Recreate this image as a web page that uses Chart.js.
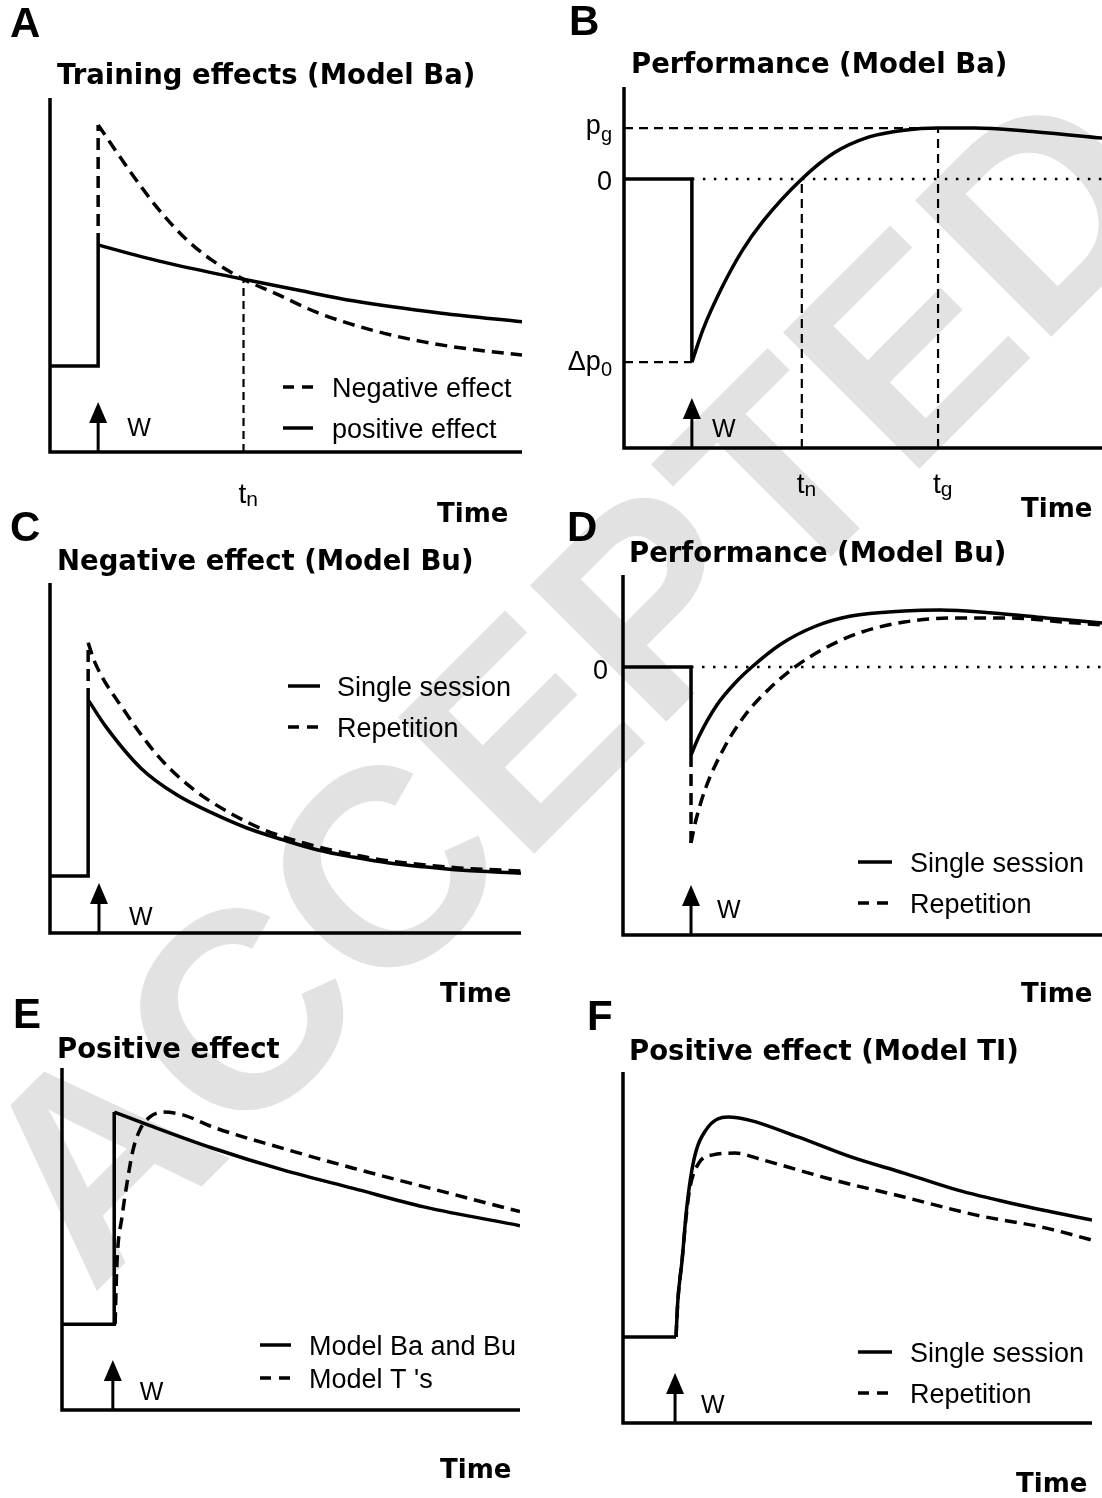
<!DOCTYPE html>
<html lang="en">
<head>
  <meta charset="UTF-8" />
  <title>Training effects and performance models</title>
  <script src="https://cdn.jsdelivr.net/npm/chart.js"></script>
  <style>
    body { margin: 0; background: #fff; }
    #page { position: relative; width: 1102px; height: 1498px; overflow: hidden; }
    #page canvas { position: absolute; left: 0; top: 0; }
  </style>
</head>
<body>
<div id="page">
  <canvas id="mark" width="1102" height="1498"></canvas>
  <canvas id="panelA" width="1102" height="1498"></canvas>
  <canvas id="panelB" width="1102" height="1498"></canvas>
  <canvas id="panelC" width="1102" height="1498"></canvas>
  <canvas id="panelD" width="1102" height="1498"></canvas>
  <canvas id="panelE" width="1102" height="1498"></canvas>
  <canvas id="panelF" width="1102" height="1498"></canvas>
</div>

<script>
  // ---- text ----
  const panelLetters = ['A', 'B', 'C', 'D', 'E', 'F'];
  const panelTitles = [
    'Training effects (Model Ba)', 'Performance (Model Ba)',
    'Negative effect (Model Bu)', 'Performance (Model Bu)',
    'Positive effect', 'Positive effect (Model TI)'
  ];
  const axisName = 'Time';
  const loadName = 'W';
  const watermark = 'ACCEPTED';
  const legendA = ['Negative effect', 'positive effect'];
  const legendC = ['Single session', 'Repetition'];
  const legendD = ['Single session', 'Repetition'];
  const legendE = ['Model Ba and Bu', "Model T 's"];
  const legendF = ['Single session', 'Repetition'];

  // time of the training load W in each panel (A..F)
  const loadTime = [10.2, 14.2, 10.4, 14.2, 11.1, 11.1];

  // ---- A: training effects (Model Ba) ----
  const aStepT = [0, 10.2, 10.2];
  const aStepV = [24.3, 24.3, 58.5];
  const aJumpT = [10.2, 10.2];
  const aJumpV = [58.5, 92.4];
  const aPosT = [10.2, 19.3, 26.8, 41.0, 53.0, 64.2, 82.9, 100];
  const aPosV = [58.5, 55.2, 52.8, 48.8, 45.6, 42.7, 39.2, 36.8];
  const aNegT = [10.2, 12.7, 17.8, 23.1, 29.0, 34.3, 41.0, 47.7, 56.8, 68.0, 79.2, 90.5, 100];
  const aNegV = [92.4, 87.5, 77.7, 68.4, 59.9, 54.2, 48.8, 44.8, 39.3, 34.5, 31.1, 28.8, 27.4];
  const aTn = 41.0;
  const aTnV = 48.8;

  // ---- B: performance (Model Ba) ----
  const bStepT = [0, 14.2, 14.2];
  const bStepV = [0, 0, -35.2];
  const bPerfT = [14.2, 16.5, 20.3, 24.7, 29.1, 37.2, 43.9, 51.3, 58.6, 65.7, 73.4, 84.5, 100];
  const bPerfV = [-35.2, -29.0, -21.2, -13.8, -8.1, 0, 5.0, 8.1, 9.4, 9.8, 9.8, 9.2, 7.9];
  const bTn = 37.2, bTg = 65.7, bPg = 9.8, bDp0 = -35.2;
  const bTickVal = [bPg, 0, bDp0];
  const bTickMain = ['p', '0', 'Δp'];
  const bTickSub = ['g', '', '0'];
  const bTimeVal = [bTn, bTg];
  const bTimeSub = ['n', 'g'];

  // ---- C: negative effect (Model Bu) ----
  const cStepT = [0, 8.1, 8.1];
  const cStepV = [16.3, 16.3, 66.6];
  const cJumpT = [8.1, 8.1];
  const cJumpV = [66.6, 82.9];
  const cSingleT = [8.1, 11.9, 19.3, 27.0, 34.4, 41.8, 49.5, 56.9, 64.3, 72.0, 79.4, 86.8, 100];
  const cSingleV = [66.6, 58.9, 47.1, 39.4, 34.3, 30.0, 26.6, 23.7, 21.7, 20.0, 18.9, 18.0, 17.1];
  const cRepT = [8.1, 9.6, 15.7, 23.1, 30.6, 38.2, 45.6, 53.1, 60.7, 68.2, 75.6, 86.8, 100];
  const cRepV = [82.9, 77.1, 63.7, 50.3, 40.9, 34.3, 29.4, 26.0, 23.4, 21.4, 20.0, 18.6, 17.7];

  // ---- D: performance (Model Bu) ----
  const dStepT = [0, 14.2, 14.2];
  const dStepV = [0, 0, -17.6];
  const dJumpT = [14.2, 14.2];
  const dJumpV = [-17.6, -35.2];
  const dSingleT = [14.2, 15.9, 19.6, 23.4, 26.9, 33.0, 40.3, 47.6, 58.7, 66.2, 77.2, 88.3, 100];
  const dSingleV = [-17.6, -13.8, -7.6, -3.2, 0, 4.6, 8.2, 10.2, 11.2, 11.4, 10.8, 9.8, 8.8];
  const dRepT = [14.2, 15.2, 17.3, 21.1, 25.5, 30.7, 35.9, 42.6, 49.9, 58.7, 69.7, 80.8, 91.9, 100];
  const dRepV = [-35.2, -30.7, -24.1, -16.2, -9.6, -4.2, 0, 4.0, 7.0, 9.0, 9.8, 9.8, 9.0, 8.4];

  // ---- E: positive effect ----
  const eStepT = [0, 11.4, 11.4];
  const eStepV = [25.1, 25.1, 87.1];
  const eBaT = [11.4, 18.9, 32.8, 48.2, 63.6, 79.0, 100];
  const eBaV = [87.1, 83.3, 76.6, 70.2, 64.8, 59.4, 53.9];
  const eTT = [11.6, 12.0, 13.1, 14.2, 15.5, 17.0, 19.2, 22.1, 26.4, 32.8, 48.2, 63.6, 79.0, 100];
  const eTV = [25.1, 43.0, 56.4, 66.4, 76.0, 81.9, 85.7, 87.1, 86.3, 82.8, 76.5, 70.7, 65.3, 58.0];

  // ---- F: positive effect (Model TI) ----
  const fStepT = [0, 11.3];
  const fStepV = [24.5, 24.5];
  const fSingleT = [11.3, 11.7, 12.6, 13.6, 15.1, 17.7, 22.4, 26.9, 37.3, 48.6, 59.9, 71.2, 82.5, 100];
  const fSingleV = [24.5, 35.0, 46.4, 61.5, 74.9, 83.5, 87.2, 86.3, 81.5, 75.8, 71.2, 66.4, 62.7, 57.8];
  const fRepT = [11.3, 11.7, 12.6, 13.4, 14.3, 16.2, 19.2, 23.9, 29.9, 45.0, 59.9, 75.1, 90.0, 100];
  const fRepV = [24.5, 35.0, 46.4, 58.0, 67.2, 74.1, 76.4, 76.9, 74.9, 69.2, 64.4, 59.3, 55.6, 52.1];

  // ---- helpers ----
  const SANS = '"Liberation Sans", Arial, sans-serif';
  const BOLD = '"DejaVu Sans", sans-serif';
  const DASH = [12, 7];
  const GUIDE = [9, 6];
  const DOTS = [2.5, 8.5];

  function pts(xs, ys) {
    return xs.map((x, i) => ({ x: x, y: ys[i] }));
  }
  function curve(xs, ys, dashed) {
    return {
      data: pts(xs, ys), borderColor: '#000', borderWidth: 3.5,
      borderDash: dashed ? DASH : [], pointRadius: 0, fill: false,
      cubicInterpolationMode: 'monotone'
    };
  }
  function step(xs, ys, dashed) {
    return {
      data: pts(xs, ys), borderColor: '#000', borderWidth: 3.5,
      borderDash: dashed ? DASH : [], pointRadius: 0, fill: false, tension: 0
    };
  }
  function guide(xs, ys, dash, width) {
    return {
      data: pts(xs, ys), borderColor: '#000', borderWidth: width || 2.2,
      borderDash: dash, pointRadius: 0, fill: false, tension: 0
    };
  }
  function txt(ctx, s, x, y, font, align) {
    ctx.font = font;
    ctx.textAlign = align || 'left';
    ctx.textBaseline = 'alphabetic';
    ctx.fillText(s, x, y);
  }

  // per-panel text placement
  const decorById = {
    panelA: { i: 0, letter: [10, 37], title: [57, 84], time: [437, 522], wdx: 29, wy: 436,
      legend: { labels: legendA, dashed: [true, false], ys: [387, 428], x1: 283, x2: 313, tx: 332 },
      xTicks: { vals: [aTn], subs: ['n'], dy: 51 } },
    panelB: { i: 1, letter: [569, 35], title: [631, 73], time: [1021, 517], wdx: 20, wy: 437,
      yTicks: { vals: bTickVal, mains: bTickMain, subs: bTickSub, right: 612, dy: [6, 11, 8], sdy: [13, 0, 14] },
      xTicks: { vals: bTimeVal, subs: bTimeSub, dy: 45 } },
    panelC: { i: 2, letter: [10, 541], title: [57, 570], time: [440, 1002], wdx: 30, wy: 925,
      legend: { labels: legendC, dashed: [false, true], ys: [686, 727], x1: 288, x2: 320, tx: 337 } },
    panelD: { i: 3, letter: [567, 541], title: [629, 562], time: [1021, 1002], wdx: 26, wy: 918,
      legend: { labels: legendD, dashed: [false, true], ys: [862, 903], x1: 858, x2: 892, tx: 910 },
      yTicks: { vals: [0], mains: ['0'], subs: [''], right: 608, dy: [12], sdy: [0] } },
    panelE: { i: 4, letter: [13, 1028], title: [57, 1058], time: [440, 1478], wdx: 27, wy: 1400,
      legend: { labels: legendE, dashed: [false, true], ys: [1345, 1378], x1: 260, x2: 291, tx: 309 } },
    panelF: { i: 5, letter: [587, 1030], title: [629, 1060], time: [1016, 1492], wdx: 26, wy: 1413,
      legend: { labels: legendF, dashed: [false, true], ys: [1352, 1393], x1: 858, x2: 892, tx: 910 } }
  };

  const decorPlugin = {
    id: 'decor',
    afterDatasetsDraw(chart) {
      const o = decorById[chart.canvas.id];
      const ctx = chart.ctx;
      const a = chart.chartArea;
      const xs = chart.scales.x, ys = chart.scales.y;
      ctx.save();
      ctx.strokeStyle = '#000';
      ctx.fillStyle = '#000';
      ctx.setLineDash([]);

      // axes
      ctx.lineWidth = 3.5;
      ctx.beginPath();
      ctx.moveTo(a.left, a.top);
      ctx.lineTo(a.left, a.bottom);
      ctx.moveTo(a.left - 1.75, a.bottom);
      ctx.lineTo(a.right, a.bottom);
      ctx.stroke();

      // load arrow + W
      const ax = xs.getPixelForValue(loadTime[o.i]);
      ctx.lineWidth = 3;
      ctx.beginPath();
      ctx.moveTo(ax, a.bottom);
      ctx.lineTo(ax, a.bottom - 32);
      ctx.stroke();
      ctx.beginPath();
      ctx.moveTo(ax, a.bottom - 50);
      ctx.lineTo(ax - 9, a.bottom - 29);
      ctx.lineTo(ax + 9, a.bottom - 29);
      ctx.closePath();
      ctx.fill();
      txt(ctx, loadName, ax + o.wdx, o.wy, '25px ' + SANS);

      // panel letter, title, axis name
      txt(ctx, panelLetters[o.i], o.letter[0], o.letter[1], 'bold 42px ' + SANS);
      txt(ctx, panelTitles[o.i], o.title[0], o.title[1], 'bold 27.5px ' + BOLD);
      txt(ctx, axisName, o.time[0], o.time[1], 'bold 26px ' + BOLD);

      // legend
      if (o.legend) {
        const L = o.legend;
        L.labels.forEach((lab, k) => {
          ctx.lineWidth = 3.5;
          ctx.setLineDash(L.dashed[k] ? [11, 8] : []);
          ctx.beginPath();
          ctx.moveTo(L.x1, L.ys[k]);
          ctx.lineTo(L.x2, L.ys[k]);
          ctx.stroke();
          ctx.setLineDash([]);
          txt(ctx, lab, L.tx, L.ys[k] + 9.5, '27px ' + SANS);
        });
      }

      // y tick labels (with subscripts)
      if (o.yTicks) {
        const T = o.yTicks;
        T.vals.forEach((v, k) => {
          const py = ys.getPixelForValue(v);
          ctx.font = '27px ' + SANS;
          const w1 = ctx.measureText(T.mains[k]).width;
          ctx.font = '20px ' + SANS;
          const w2 = T.subs[k] ? ctx.measureText(T.subs[k]).width : 0;
          const x0 = T.right - w1 - w2;
          txt(ctx, T.mains[k], x0, py + T.dy[k], '27px ' + SANS);
          if (T.subs[k]) txt(ctx, T.subs[k], x0 + w1, py + T.sdy[k], '20px ' + SANS);
        });
      }

      // x tick labels t_n, t_g
      if (o.xTicks) {
        const T = o.xTicks;
        T.vals.forEach((v, k) => {
          const px = xs.getPixelForValue(v);
          ctx.font = '28px ' + SANS;
          const w1 = ctx.measureText('t').width;
          txt(ctx, 't', px - 5, a.bottom + T.dy, '28px ' + SANS);
          txt(ctx, T.subs[k], px - 5 + w1, a.bottom + T.dy + 3, '21px ' + SANS);
        });
      }
      ctx.restore();
    }
  };

  function makePanel(id, area, yRange, datasets) {
    new Chart(document.getElementById(id), {
      type: 'line',
      data: { datasets: datasets },
      options: {
        responsive: false,
        animation: false,
        events: [],
        layout: { padding: { left: area[0], top: area[1], right: 1102 - area[2], bottom: 1498 - area[3] } },
        scales: {
          x: { type: 'linear', min: 0, max: 100, display: false },
          y: { type: 'linear', min: yRange[0], max: yRange[1], display: false }
        },
        plugins: { legend: { display: false }, tooltip: { enabled: false } }
      },
      plugins: [decorPlugin]
    });
  }

  // ---- watermark ----
  const wm = document.getElementById('mark').getContext('2d');
  wm.save();
  wm.translate(92, 1296);
  wm.rotate(-Math.PI / 4);
  wm.font = 'bold 280px ' + SANS;
  wm.fillStyle = '#e2e2e2';
  wm.fillText(watermark, 0, 0);
  wm.restore();

  // ---- panels ----
  makePanel('panelA', [50, 98, 522, 452], [0, 100], [
    step(aStepT, aStepV, false),
    step(aJumpT, aJumpV, true),
    curve(aPosT, aPosV, false),
    curve(aNegT, aNegV, true),
    guide([aTn, aTn], [0, aTnV], [8, 5])
  ]);

  const bMin = -51.7, bMax = 17.7;
  makePanel('panelB', [624, 87, 1102, 448], [bMin, bMax], [
    step(bStepT, bStepV, false),
    curve(bPerfT, bPerfV, false),
    guide([0, bTg], [bPg, bPg], GUIDE),
    guide([0, 14.2], [bDp0, bDp0], GUIDE),
    guide([bTn, bTn], [bMin, 0], GUIDE),
    guide([bTg, bTg], [bMin, bPg], GUIDE),
    guide([14.2, 100], [0, 0], DOTS, 2.5)
  ]);

  makePanel('panelC', [50, 583, 521, 933], [0, 100], [
    step(cStepT, cStepV, false),
    step(cJumpT, cJumpV, true),
    curve(cSingleT, cSingleV, false),
    curve(cRepT, cRepV, true)
  ]);

  makePanel('panelD', [623, 575, 1102, 935], [-53.6, 18.4], [
    step(dStepT, dStepV, false),
    step(dJumpT, dJumpV, true),
    curve(dSingleT, dSingleV, false),
    curve(dRepT, dRepV, true),
    guide([14.2, 100], [0, 0], DOTS, 2.5)
  ]);

  makePanel('panelE', [62, 1068, 520, 1410], [0, 100], [
    step(eStepT, eStepV, false),
    curve(eBaT, eBaV, false),
    curve(eTT, eTV, true)
  ]);

  makePanel('panelF', [623, 1072, 1092, 1423], [0, 100], [
    step(fStepT, fStepV, false),
    curve(fSingleT, fSingleV, false),
    curve(fRepT, fRepV, true)
  ]);
</script>
</body>
</html>
